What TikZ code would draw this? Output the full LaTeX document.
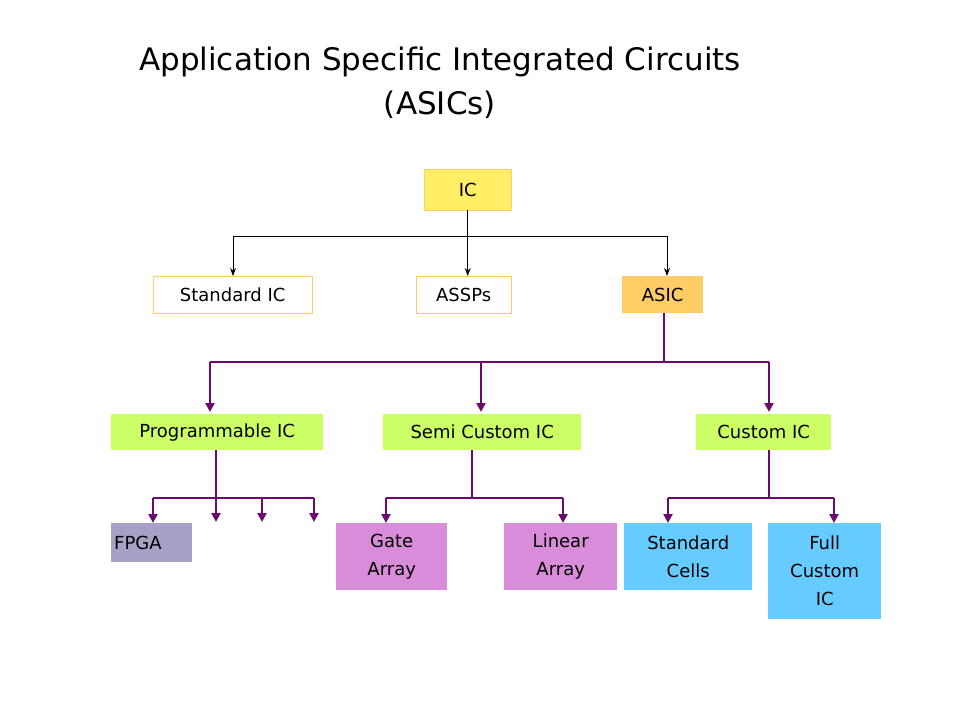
\documentclass[tikz,border=0pt]{standalone}
\usepackage{fontspec}
\setmainfont{DejaVu Sans}
\usetikzlibrary{arrows.meta}
\definecolor{cyel}{HTML}{FFEE66}
\definecolor{corg}{HTML}{FFCC66}
\definecolor{cgrn}{HTML}{CCFF66}
\definecolor{cfpga}{HTML}{A9A0C8}
\definecolor{cpink}{HTML}{D98CD9}
\definecolor{cblue}{HTML}{66CCFF}
\definecolor{cpur}{HTML}{6A0A6A}
\begin{document}
\begin{tikzpicture}[x=1pt,y=-1pt,
  box/.style={draw=none,inner sep=0,anchor=north west,font=\fontsize{18}{28}\selectfont,align=center},
  blk/.style={draw=black,line width=1pt,-{Stealth[length=8pt,width=6pt]}},
  pur/.style={draw=cpur,line width=2.6pt,-{Triangle[length=9pt,width=9pt]}},
  purl/.style={draw=cpur,line width=2.6pt}]
\useasboundingbox (0,0) rectangle (960,720);
\node[font=\fontsize{31}{44}\selectfont,align=center] (title) at (440,83) {Application Specific Integrated Circuits\\(ASICs)};
% level 0/1
\node[box,fill=cyel,draw=corg,minimum width=87,minimum height=41] (ic) at (424,169) {IC};
\node[box,fill=white,draw=corg,minimum width=159,minimum height=37] (std) at (153,276) {Standard IC};
\node[box,fill=white,draw=corg,minimum width=95,minimum height=37] (assp) at (416,276) {ASSPs};
\node[box,fill=corg,minimum width=81,minimum height=37] (asic) at (622,276) {ASIC};
% level 2
\node[box,fill=cgrn,minimum width=212,minimum height=36] (prog) at (111,414) {Programmable IC};
\node[box,fill=cgrn,minimum width=198,minimum height=36] (semi) at (383,414) {Semi Custom IC};
\node[box,fill=cgrn,minimum width=135,minimum height=36] (cust) at (696,414) {Custom IC};
% level 3
\node[box,fill=cfpga,minimum width=81,minimum height=39,align=left,text width=75,inner xsep=3] (fpga) at (111,523) {FPGA};
\node[box,fill=cpink,minimum width=111,minimum height=67] (gate) at (336,523) {Gate\\Array};
\node[box,fill=cpink,minimum width=113,minimum height=67] (lin) at (504,523) {Linear\\Array};
\node[box,fill=cblue,minimum width=128,minimum height=67] (cells) at (624,523) {Standard\\Cells};
\node[box,fill=cblue,minimum width=113,minimum height=96] (full) at (768,523) {Full\\Custom\\IC};
% free ends
\coordinate (e1) at (262,522);
\coordinate (e2) at (314,522);
\coordinate (e0) at (216,522);
% IC connectors
\draw[black,line width=1pt] (ic.south) -- ++(0,26);
\draw[black,line width=1pt] (233,236) -- (667,236);
\draw[blk] (233,236) -- (std.north -| 233,0);
\draw[blk] (ic.south) -- (assp.north -| ic.south);
\draw[blk] (667,236) -- (asic.north -| 667,0);
% ASIC connectors
\draw[purl] (664,313) -- (664,362);
\draw[purl] (210,362) -- (769,362);
\draw[pur] (210,362) -- (210,412);
\draw[pur] (481,362) -- (481,412);
\draw[pur] (769,362) -- (769,412);
% Programmable
\draw[purl] (216,450) -- (216,498);
\draw[purl] (153,498) -- (314,498);
\draw[pur] (153,498) -- (fpga.north -| 153,0);
\draw[pur] (216,498) -- (e0);
\draw[pur] (262,498) -- (e1);
\draw[pur] (314,498) -- (e2);
% Semi
\draw[purl] (472,450) -- (472,498);
\draw[purl] (386,498) -- (563,498);
\draw[pur] (386,498) -- (gate.north -| 386,0);
\draw[pur] (563,498) -- (lin.north -| 563,0);
% Custom
\draw[purl] (769,450) -- (769,498);
\draw[purl] (668,498) -- (834,498);
\draw[pur] (668,498) -- (cells.north -| 668,0);
\draw[pur] (834,498) -- (full.north -| 834,0);
\end{tikzpicture}
\end{document}
